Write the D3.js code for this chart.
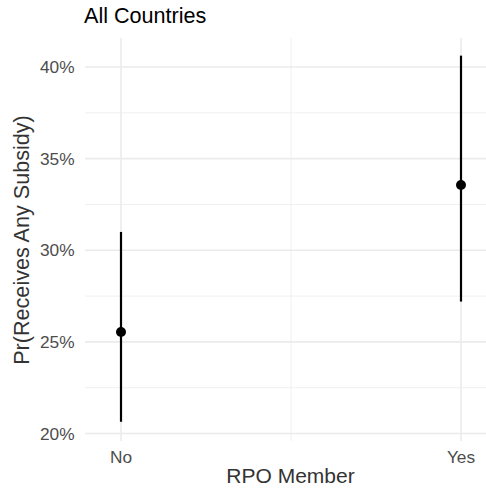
<!DOCTYPE html>
<html><head><meta charset="utf-8">
<script src="https://cdn.jsdelivr.net/npm/d3@7"></script>
<style>body{margin:0;background:#fff}svg{display:block}text{font-family:"Liberation Sans",Arial,sans-serif}</style>
</head><body>
<script>
const categories = ["No", "Yes"];
const estimates = [0.2554, 0.3356];
const lowers = [0.2064, 0.2720];
const uppers = [0.3100, 0.4062];
const yTicks = [0.20, 0.25, 0.30, 0.35, 0.40];
const yMinor = [0.225, 0.275, 0.325, 0.375];

const W = 486, H = 488;
const svg = d3.select("body").append("svg").attr("width", W).attr("height", H);
const panel = {left: 85, right: 486, top: 38, bottom: 441};

const x = d3.scalePoint().domain(categories).range([121, 461]);
const y = d3.scaleLinear().domain([0.20, 0.40]).range([433.5, 67]);

// minor grid
svg.append("g").selectAll("line").data(yMinor).join("line")
  .attr("x1", panel.left).attr("x2", panel.right)
  .attr("y1", d => y(d)).attr("y2", d => y(d))
  .attr("stroke", "#f0f0f0").attr("stroke-width", 1);
svg.append("line").attr("x1", (x("No")+x("Yes"))/2).attr("x2", (x("No")+x("Yes"))/2)
  .attr("y1", panel.top).attr("y2", panel.bottom).attr("stroke", "#f0f0f0").attr("stroke-width", 1);
// major grid
svg.append("g").selectAll("line").data(yTicks).join("line")
  .attr("x1", panel.left).attr("x2", panel.right)
  .attr("y1", d => y(d)).attr("y2", d => y(d))
  .attr("stroke", "#ebebeb").attr("stroke-width", 1.6);
svg.append("g").selectAll("line").data(categories).join("line")
  .attr("x1", d => x(d)).attr("x2", d => x(d))
  .attr("y1", panel.top).attr("y2", panel.bottom)
  .attr("stroke", "#ebebeb").attr("stroke-width", 1.6);

// axes labels
svg.append("g").selectAll("text").data(yTicks).join("text")
  .attr("x", 74.5).attr("y", d => y(d) + 6.2)
  .attr("text-anchor", "end").attr("font-size", 17.3).attr("fill", "#4d4d4d")
  .text(d => d3.format(".0%")(d));
svg.append("g").selectAll("text").data(categories).join("text")
  .attr("x", d => x(d)).attr("y", 462.5)
  .attr("text-anchor", "middle").attr("font-size", 17.3).attr("fill", "#4d4d4d")
  .text(d => d);

// ranges
const data = categories.map((c, i) => ({c, est: estimates[i], lo: lowers[i], hi: uppers[i]}));
svg.append("g").selectAll("line").data(data).join("line")
  .attr("x1", d => x(d.c)).attr("x2", d => x(d.c))
  .attr("y1", d => y(d.lo)).attr("y2", d => y(d.hi))
  .attr("stroke", "#000").attr("stroke-width", 2.2);
svg.append("g").selectAll("circle").data(data).join("circle")
  .attr("cx", d => x(d.c)).attr("cy", d => y(d.est)).attr("r", 5)
  .attr("fill", "#000");

// titles
svg.append("text").attr("x", 84).attr("y", 23.3).attr("font-size", 21.6).attr("fill", "#000").text("All Countries");
svg.append("text").attr("x", 290.5).attr("y", 483)
  .attr("text-anchor", "middle").attr("font-size", 21).attr("fill", "#333").text("RPO Member");
svg.append("text").attr("transform", `translate(29,240) rotate(-90)`)
  .attr("text-anchor", "middle").attr("font-size", 21.6).attr("fill", "#333").text("Pr(Receives Any Subsidy)");
</script>
</body></html>
